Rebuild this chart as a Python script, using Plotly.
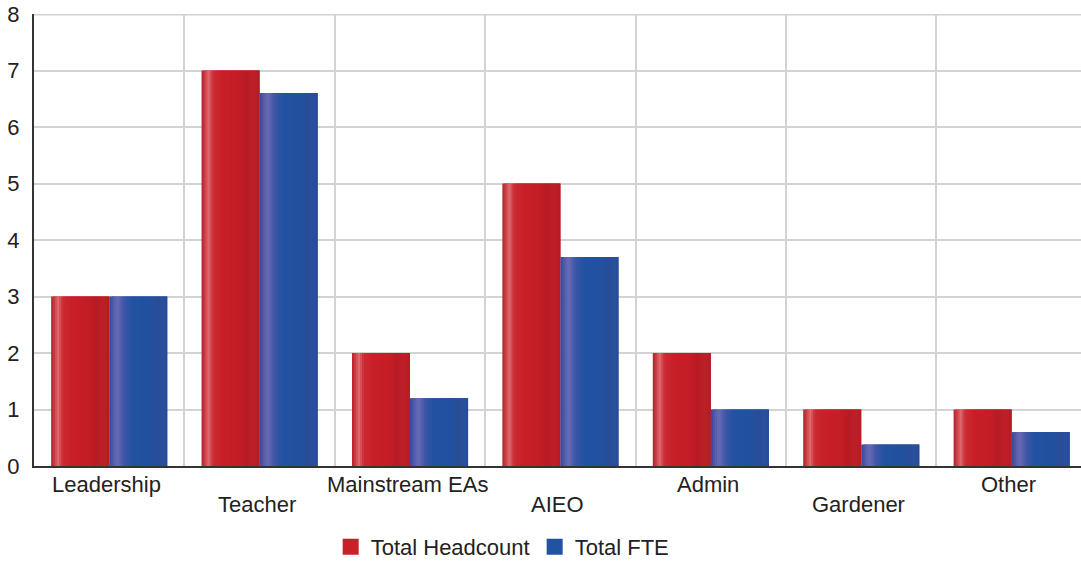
import plotly.graph_objects as go

# Staff categories and values
categories = ["Leadership", "Teacher", "Mainstream EAs", "AIEO", "Admin", "Gardener", "Other"]
total_headcount = [3, 7, 2, 5, 2, 1, 1]
total_fte = [3, 6.6, 1.2, 3.7, 1, 0.38, 0.6]
y_ticks = [0, 1, 2, 3, 4, 5, 6, 7, 8]

FONT = "Liberation Sans, Arial, sans-serif"
TEXT_COLOR = "#222222"

# Horizontal colour profiles used to give the bars a cylindrical shading
RED_STOPS = [(0.00, "#b81c26"), (0.05, "#c93a42"), (0.12, "#dc6a6f"), (0.20, "#cc2b33"),
             (0.35, "#c81f28"), (0.62, "#c41e27"), (0.78, "#b71c24"), (0.90, "#bf1f28"),
             (1.00, "#b31b23")]
BLUE_STOPS = [(0.00, "#34469a"), (0.06, "#4f58a6"), (0.14, "#6a6cb4"), (0.25, "#3f56a7"),
              (0.40, "#2252a2"), (0.70, "#2251a0"), (0.85, "#2a4d96"), (0.93, "#2a50a0"),
              (1.00, "#264b95")]


def hex_to_rgb(h):
    h = h.lstrip("#")
    return tuple(int(h[i:i + 2], 16) for i in (0, 2, 4))


def sample(stops, t):
    for (t0, c0), (t1, c1) in zip(stops, stops[1:]):
        if t0 <= t <= t1:
            f = 0 if t1 == t0 else (t - t0) / (t1 - t0)
            a, b = hex_to_rgb(c0), hex_to_rgb(c1)
            return "rgb(%d,%d,%d)" % tuple(round(a[k] + (b[k] - a[k]) * f) for k in range(3))
    return stops[-1][1]


centers = [i + 0.5 for i in range(len(categories))]
BAR_W = 0.386
N_SLICES = 29
slice_w = BAR_W / N_SLICES

fig = go.Figure()

# Each bar is built from narrow overlapping slices; later slices cover the overlap
for values, stops, start in ((total_headcount, RED_STOPS, -BAR_W), (total_fte, BLUE_STOPS, 0.0)):
    for j in range(N_SLICES):
        t = (j + 0.5) / N_SLICES
        remaining = BAR_W - j * slice_w
        fig.add_trace(go.Bar(
            x=centers, y=values,
            offset=start + j * slice_w,
            width=min(slice_w * 2.5, remaining),
            marker=dict(color=sample(stops, t), line=dict(width=0)),
            showlegend=False, hoverinfo="skip",
        ))

# Legend entries
fig.add_trace(go.Scatter(x=[None], y=[None], mode="markers", name="Total Headcount",
                         marker=dict(symbol="square", size=20, color="#c81f28")))
fig.add_trace(go.Scatter(x=[None], y=[None], mode="markers", name="Total FTE",
                         marker=dict(symbol="square", size=20, color="#2252a2")))

# Category labels, alternating between two rows
for i, (c, name) in enumerate(zip(centers, categories)):
    fig.add_annotation(x=c, xref="x", y=0, yref="paper", yanchor="top",
                       yshift=-4 - (20 if i % 2 else 0), xshift=-3,
                       text=name, showarrow=False,
                       font=dict(family=FONT, size=22, color=TEXT_COLOR))

# Heavier top gridline
fig.add_shape(type="line", xref="paper", yref="y", x0=0, x1=1, y0=8, y1=8,
              line=dict(color="#d2d2d2", width=3), layer="below")

fig.update_layout(
    width=1081, height=562,
    margin=dict(l=34, r=0, t=14, b=96),
    paper_bgcolor="white", plot_bgcolor="white",
    barmode="overlay",
    xaxis=dict(range=[0, 6.961], tickvals=[1, 2, 3, 4, 5, 6], showticklabels=False,
               showgrid=True, gridcolor="#d3d3d3", gridwidth=2, zeroline=False,
               showline=True, linecolor="#333333", linewidth=2, ticks=""),
    yaxis=dict(range=[0, 8], tickvals=y_ticks, showgrid=True, gridcolor="#d3d3d3", gridwidth=2,
               zeroline=False, showline=True, linecolor="#333333", linewidth=2, ticks="",
               ticklabelstandoff=8,
               tickfont=dict(family=FONT, size=22, color=TEXT_COLOR)),
    legend=dict(orientation="h", xref="container", yref="container",
                x=0.465, xanchor="center", y=0.027, yanchor="middle",
                font=dict(family=FONT, size=22, color=TEXT_COLOR),
                itemwidth=30, bgcolor="rgba(0,0,0,0)"),
    font=dict(family=FONT),
)

fig.write_html("out.html")
